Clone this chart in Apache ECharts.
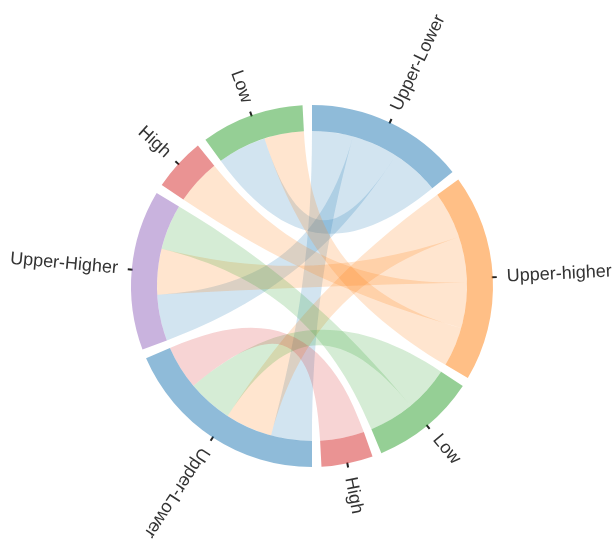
<!DOCTYPE html>
<html>
<head>
<meta charset="utf-8">
<script src="https://cdn.jsdelivr.net/npm/echarts@6.0.0/dist/echarts.min.js"></script>
<style>
  html, body { margin: 0; padding: 0; background: #fff; }
  #chart { width: 612px; height: 540px; }
</style>
</head>
<body>
<div id="chart"></div>
<script>
// nodes clockwise from the top: right half first, then left half
var nodeNames = ['Upper-Lower', 'Upper-higher', 'Low', 'High', 'Upper-Lower', 'Upper-Higher', 'High', 'Low'];
var nodeColors = ['#1f77b4', '#ff7f0e', '#2ca02c', '#d62728', '#1f77b4', '#9467bd', '#d62728', '#2ca02c'];
// links (index into nodeNames), left node -> right node
var linkSource = [4, 4, 4, 4, 5, 5, 5, 6, 7, 7];
var linkTarget = [0, 1, 2, 3, 0, 1, 2, 1, 0, 1];
var linkValues = [15.3, 17.6, 16.9, 16.5, 17.3, 17.1, 16.9, 17.0, 18.2, 14.8];

var padAngle = 3;

var myChart = echarts.init(document.getElementById('chart'));

var nodes = nodeNames.map(function (n, i) {
    return {
        id: 'n' + i,
        name: n,
        itemStyle: { color: nodeColors[i], opacity: 0.5 }
    };
});
var links = linkValues.map(function (v, i) {
    return { source: 'n' + linkSource[i], target: 'n' + linkTarget[i], value: v };
});

// node totals (same as the chord arcs), used to put the labels at the arc middles
var nodeValues = nodeNames.map(function (n, i) {
    var s = 0;
    linkValues.forEach(function (v, j) {
        if (linkSource[j] == i || linkTarget[j] == i) s += v;
    });
    return s;
});
var total = nodeValues.reduce(function (a, b) { return a + b; }, 0);
// the gap between arcs expressed in value units, so the pie slices line up with the chord arcs
var padValue = padAngle * total / (360 - nodeNames.length * padAngle);
var degPerValue = (360 - nodeNames.length * padAngle) / total;

var acc = 0;
var midAngles = [];
var labelData = nodeNames.map(function (n, i) {
    // middle of the arc, degrees clockwise from 12 o'clock
    midAngles.push(acc + nodeValues[i] * degPerValue / 2);
    acc += nodeValues[i] * degPerValue + padAngle;
    return { name: n, value: nodeValues[i] + padValue };
});

var option = {
    animation: false,
    series: [{
        type: 'chord',
        center: [312, 286],
        radius: [155, 181],
        startAngle: 90,
        clockwise: true,
        padAngle: padAngle,
        data: nodes,
        links: links,
        itemStyle: { borderRadius: 0, borderWidth: 0 },
        lineStyle: { color: 'target', opacity: 0.2, width: 0 },
        label: { show: false }
    }, {
        // only the labels and their small ticks
        type: 'pie',
        silent: true,
        center: [312, 286],
        radius: [175, 180],
        startAngle: 90 + padAngle / 2,
        clockwise: true,
        avoidLabelOverlap: false,
        data: labelData,
        itemStyle: { color: 'rgba(0,0,0,0)' },
        label: {
            show: true,
            position: 'outside',
            rotate: 'radial',
            distanceToLabelLine: 0,
            padding: [0, 10, 0, 10],
            color: '#333',
            fontSize: 18,
            fontFamily: 'Liberation Sans, Arial, sans-serif'
        },
        labelLine: {
            show: true,
            length: 5,
            length2: 0,
            smooth: false,
            lineStyle: { color: '#222', width: 2 }
        },
        // lower left labels keep reading outwards (upside down), like the original
        labelLayout: function (params) {
            var mid = midAngles[params.dataIndex];
            if (mid > 180 && mid < 250) {
                return { align: 'left', rotate: -(mid - 90) };
            }
            return {};
        }
    }]
};
myChart.setOption(option);
</script>
</body>
</html>
